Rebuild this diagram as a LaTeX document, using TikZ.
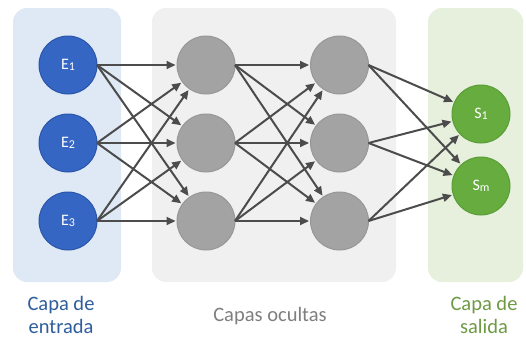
\documentclass[tikz,border=0pt]{standalone}
\usepackage{fontspec}
\setmainfont{Carlito}
\usetikzlibrary{arrows.meta}
\definecolor{panelblue}{HTML}{DFE9F6}
\definecolor{panelgrey}{HTML}{F0F0F0}
\definecolor{panelgreen}{HTML}{E6F0DD}
\definecolor{nodeblue}{HTML}{3566C3}
\definecolor{nodeblueedge}{HTML}{2A55A8}
\definecolor{nodegrey}{HTML}{A3A3A3}
\definecolor{nodegreyedge}{HTML}{979797}
\definecolor{nodegreen}{HTML}{66AC3E}
\definecolor{nodegreenedge}{HTML}{5A9C35}
\definecolor{conncol}{HTML}{4C4C4C}
\definecolor{txtblue}{HTML}{2F5E9C}
\definecolor{txtgrey}{HTML}{7F7F7F}
\definecolor{txtgreen}{HTML}{6E9A45}
\tikzset{
  panel/.style={rounded corners=14pt, draw=none},
  neuron/.style={circle, minimum size=58pt, inner sep=0pt, outer sep=0pt, line width=1pt, text=white,
    font=\fontsize{16}{16}\selectfont},
  enode/.style={neuron, fill=nodeblue, draw=nodeblueedge},
  hnode/.style={neuron, fill=nodegrey, draw=nodegreyedge},
  snode/.style={neuron, fill=nodegreen, draw=nodegreenedge},
  conn/.style={draw=conncol, line width=2pt, shorten >=1.5pt,
    -{Triangle[length=9pt,width=8pt]}},
  lbl/.style={align=center, font=\fontsize{20.5}{22.5}\selectfont}
}
\newcommand{\nsub}[1]{\raisebox{-1pt}{\fontsize{12}{12}\selectfont #1}}
\begin{document}
\begin{tikzpicture}[x=1pt,y=-1pt]
\useasboundingbox (0,0) rectangle (526,340);
\fill[white] (0,0) rectangle (526,340);
% panels
\fill[panel, panelblue] (13,8) rectangle (121,282);
\fill[panel, panelgrey] (152,8) rectangle (396,282);
\fill[panel, panelgreen] (428,8) rectangle (523,282);
% nodes
\node[enode] (e1) at (68,65) {E\nsub{1}};
\node[enode] (e2) at (68,143) {E\nsub{2}};
\node[enode] (e3) at (68,221) {E\nsub{3}};
\node[hnode] (a1) at (206,65) {};
\node[hnode] (a2) at (206,143) {};
\node[hnode] (a3) at (206,221) {};
\node[hnode] (b1) at (339.5,65) {};
\node[hnode] (b2) at (339.5,143) {};
\node[hnode] (b3) at (339.5,221) {};
\node[snode] (s1) at (481,114) {S\nsub{1}};
\node[snode] (sm) at (481,186) {S\nsub{m}};
% connectors
\foreach \i in {1,2,3}{
  \foreach \j in {1,2,3}{
    \draw[conn] (e\i.east) -- (a\j);
    \draw[conn] (a\i.east) -- (b\j);
  }
  \draw[conn] (b\i.east) -- (s1);
  \draw[conn] (b\i.east) -- (sm);
}
% labels
\node[lbl, text=txtblue] (l1) at (61,315) {Capa de\\entrada};
\node[lbl, text=txtgrey] (l2) at (270,316) {Capas ocultas};
\node[lbl, text=txtgreen] (l3) at (484,315) {Capa de\\salida};
\end{tikzpicture}
\end{document}
